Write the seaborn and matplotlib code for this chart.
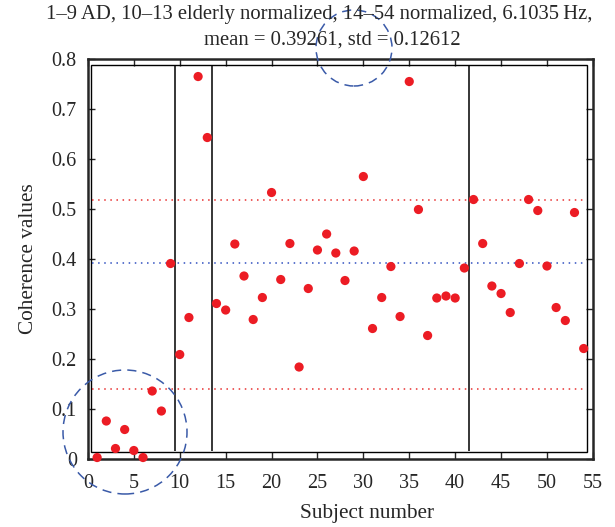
import matplotlib
matplotlib.use('Agg')
import matplotlib.pyplot as plt
from matplotlib.patches import Ellipse, Rectangle
import seaborn as sns
import pandas as pd
import numpy as np

# values
subjects = list(range(1, 55))
coherence = [0.003, 0.076, 0.021, 0.059, 0.017, 0.003, 0.136, 0.096, 0.391,
             0.209, 0.283, 0.765, 0.643,
             0.311, 0.298, 0.430, 0.366, 0.279, 0.323, 0.533, 0.359, 0.431,
             0.184, 0.341, 0.418, 0.450, 0.412, 0.357, 0.416, 0.565, 0.261,
             0.323, 0.385, 0.285, 0.755, 0.499, 0.247, 0.322, 0.326, 0.322,
             0.382, 0.519, 0.431, 0.346, 0.331, 0.293, 0.391, 0.519, 0.497,
             0.386, 0.303, 0.277, 0.493, 0.221]
mean_val = 0.39261
std_val = 0.12612
group_breaks = [9.5, 13.5, 41.5]
title_line1 = "1\u20139 AD, 10\u201313 elderly normalized, 14\u201354 normalized, 6.1035\u2009Hz,"
title_line2 = "mean = 0.39261, std = 0.12612"
xticks = [0, 5, 10, 15, 20, 25, 30, 35, 40, 45, 50, 55]
yticks = [0, 0.1, 0.2, 0.3, 0.4, 0.5, 0.6, 0.7, 0.8]

df = pd.DataFrame({'subject': subjects, 'coherence': coherence})

sns.set_style("ticks")
plt.rcParams['font.family'] = ['Liberation Serif', 'DejaVu Serif']

W, H = 615, 527
fig = plt.figure(figsize=(W / 100, H / 100), dpi=100)
ax = fig.add_axes([0.143, 0.129, 0.821, 0.759])

# mean / spread reference lines (inside the inner box)
ax.hlines(mean_val, 0.45, 54.3, colors='#3050c0', linestyles=(0, (1, 3)), linewidth=1.1)
ax.hlines([mean_val + std_val, mean_val - 2 * std_val], 0.45, 54.3,
          colors='#e83030', linestyles=(0, (1, 3)), linewidth=1.1)

# group separators
ax.vlines(group_breaks, 0.016, 0.788, colors='black', linewidth=1.1)

sns.scatterplot(data=df, x='subject', y='coherence', ax=ax, color='#ec1c24',
                s=44, edgecolor='none', linewidth=0, zorder=5, clip_on=False)

ax.set_xlim(0, 55)
ax.set_ylim(0, 0.8)
ax.set_xticks(xticks)
ax.set_yticks(yticks)
ax.set_yticklabels(['0' if v == 0 else f'{v:g}' for v in yticks])
ax.tick_params(direction='in', length=5, width=1.0, top=True, right=True,
               labelsize=14.5)
ax.tick_params(axis='x', pad=10.5)
ax.tick_params(axis='y', pad=8)
for sp in ax.spines.values():
    sp.set_linewidth(1.8)
    sp.set_visible(True)
ax.set_xlabel('Subject number', fontsize=15.3)
ax.set_ylabel('Coherence values', fontsize=15.3)
ax.xaxis.set_label_coords(0.553, -0.113)
ax.yaxis.set_label_coords(-0.099, 0.5)

fig.text(319 / W, 1 - 14 / H, title_line1, fontsize=14.9, ha='center', va='center')
fig.text(332 / W, 1 - 40 / H, title_line2, fontsize=14.9, ha='center', va='center')

# inner frame
ax.add_patch(Rectangle((0.006, 0.018), 0.982, 0.967, transform=ax.transAxes,
                       fill=False, edgecolor='black', linewidth=1.0))

# dashed annotation circles (figure pixel positions)
for cx, cy, r in [(125, 432, 62), (354, 48, 38)]:
    fig.add_artist(Ellipse((cx / W, 1 - cy / H), 2 * r / W, 2 * r / H,
                           transform=fig.transFigure, fill=False,
                           edgecolor='#3a5aa8', linestyle=(0, (6, 4)), linewidth=1.1))

fig.savefig('out.png', dpi=100)
